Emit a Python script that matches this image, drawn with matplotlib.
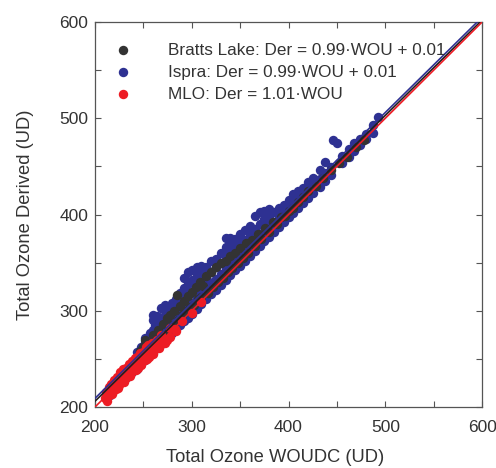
import numpy as np
import matplotlib
matplotlib.use("Agg")
import matplotlib.pyplot as plt
from matplotlib.ticker import MultipleLocator

plt.rcParams['font.family'] = ['Liberation Sans', 'DejaVu Sans']

# MLO (red)
mlo_x = [210, 212, 213, 215, 216, 218, 219, 221, 222, 224, 225, 227, 228, 230, 231,
         233, 234, 236, 237, 239, 240, 242, 244, 246, 248, 250, 252, 254, 256, 258,
         260, 263, 266, 270, 274, 278, 283, 214, 220, 226, 232, 238, 243, 249, 255,
         261, 268, 290, 300, 310,
         211, 217, 223, 229, 235, 241, 247, 253, 259, 264,
         212, 218, 224, 230, 236, 242, 248, 254, 260, 266, 272, 278, 284]
mlo_y = [209, 214, 211, 218, 214, 221, 217, 225, 219, 229, 223, 232, 226, 236, 229,
         239, 232, 243, 235, 246, 238, 249, 241, 252, 245, 257, 249, 259, 252, 262,
         256, 267, 262, 271, 270, 282, 281, 221, 228, 236, 241, 248, 252, 254, 264,
         266, 275, 289, 298, 309,
         216, 224, 231, 239, 245, 251, 256, 262, 267, 270,
         206, 214, 220, 226, 232, 238, 244, 250, 255, 261, 266, 273, 279]

# Bratts Lake (black)
bratts_x = [242, 246, 250, 252, 255, 258, 260, 262, 265, 267, 270, 272, 274, 276, 278,
            280, 282, 285, 286, 288, 290, 292, 294, 296, 298, 300, 302, 304, 306, 308,
            310, 312, 315, 317, 320, 322, 325, 327, 330, 332, 335, 337, 340, 342, 345,
            348, 350, 353, 356, 358, 362, 365, 368, 372, 376, 380, 384, 388, 392, 396,
            400, 405, 410, 415, 420, 428, 436, 444, 452, 460, 470, 478]
bratts_y = [250, 258, 262, 270, 258, 266, 275, 262, 280, 270, 286, 275, 292, 281, 296,
            285, 300, 316, 290, 305, 296, 310, 300, 315, 304, 320, 306, 325, 312, 330,
            314, 326, 336, 318, 340, 325, 345, 330, 350, 334, 352, 340, 357, 344, 360,
            350, 365, 355, 370, 360, 374, 367, 380, 375, 386, 382, 392, 390, 397, 398,
            404, 407, 413, 418, 424, 430, 438, 446, 453, 460, 470, 477]

# Ispra (blue)
ispra_x = [215, 215, 222, 222, 228, 228, 233, 233, 238, 238,
           243, 243, 243, 248, 248, 248, 252, 252, 252, 252, 257, 257, 257, 257,
           260, 260, 260, 260, 264, 264, 264, 264, 268, 268, 268, 268, 268,
           272, 272, 272, 272, 272, 276, 276, 276, 276, 280, 280, 280, 280,
           284, 284, 284, 284, 288, 288, 288, 288, 292, 292, 292, 292, 292,
           296, 296, 296, 296, 296, 300, 300, 300, 300, 300, 305, 305, 305, 305, 305,
           310, 310, 310, 310, 310, 315, 315, 315, 315, 320, 320, 320, 320,
           325, 325, 325, 325, 330, 330, 330, 330, 335, 335, 335, 335, 335,
           340, 340, 340, 340, 340, 345, 345, 345, 345, 350, 350, 350, 350,
           355, 355, 355, 355, 360, 360, 360, 360, 365, 365, 365, 365,
           370, 370, 370, 370, 375, 375, 375, 375, 380, 380, 380, 380,
           385, 385, 385, 390, 390, 390, 395, 395, 395, 400, 400, 400,
           405, 405, 405, 410, 410, 410, 415, 415, 415, 420, 420, 420,
           425, 425, 425, 432, 432, 432, 438, 438, 438, 444, 444, 446, 450,
           455, 455, 462, 462, 468, 468, 474, 474, 480, 480, 487, 487, 492,
           262, 262, 278, 278, 302, 302, 318, 318, 338, 338, 352, 352,
           362, 362, 378, 378, 392, 402, 412]
ispra_y = [213, 220, 221, 228, 226, 234, 231, 240, 236, 246,
           240, 248, 257, 245, 253, 262, 249, 257, 266, 272, 254, 262, 270, 277,
           258, 280, 290, 296, 261, 270, 288, 295, 265, 274, 283, 293, 303,
           269, 278, 290, 300, 306, 273, 283, 295, 304, 277, 288, 298, 308,
           281, 292, 302, 312, 285, 296, 306, 318, 289, 300, 312, 324, 334,
           293, 305, 316, 328, 340, 297, 308, 320, 332, 342, 302, 313, 325, 336, 345,
           307, 318, 330, 340, 346, 312, 323, 335, 345, 317, 328, 340, 352,
           322, 333, 345, 354, 327, 338, 350, 360, 332, 343, 355, 366, 376,
           337, 348, 360, 370, 376, 342, 353, 365, 375, 347, 358, 370, 380,
           352, 363, 374, 384, 357, 368, 379, 388, 362, 373, 385, 398,
           367, 378, 390, 403, 372, 383, 395, 404, 377, 388, 398, 406,
           382, 392, 403, 387, 397, 407, 392, 401, 410, 397, 406, 415,
           402, 411, 421, 407, 416, 424, 412, 420, 428, 417, 425, 434,
           422, 430, 438, 429, 437, 446, 435, 443, 455, 441, 449, 477, 474,
           453, 461, 460, 468, 466, 474, 472, 478, 478, 484, 485, 493, 501,
           285, 274, 292, 302, 330, 318, 340, 330, 365, 355, 375, 365,
           385, 375, 400, 392, 404, 412, 420]

labels = ["Bratts Lake: Der = 0.99\u00b7WOU + 0.01",
          "Ispra: Der = 0.99\u00b7WOU + 0.01",
          "MLO: Der = 1.01\u00b7WOU"]

# fit lines as drawn (slope, intercept)
fit_bratts = (0.99, 8)
fit_ispra = (0.99, 11)
fit_mlo = (1.0, 0)

c_black = '#333333'
c_blue = '#2E3192'
c_red = '#ED1C24'
c_text = '#333333'

fig = plt.figure(figsize=(4.96, 4.68), dpi=100)
ax = fig.add_axes([0.1915, 0.1303, 0.7805, 0.8227])

s = 46
ax.scatter(ispra_x, ispra_y, s=s, color=c_blue, linewidths=0, zorder=2)
ax.scatter(bratts_x, bratts_y, s=s, color=c_black, linewidths=0, zorder=3)
ax.scatter(mlo_x, mlo_y, s=s, color=c_red, linewidths=0, zorder=4)

xx = np.array([200, 600])
ax.plot(xx, fit_ispra[0] * xx + fit_ispra[1], color=c_blue, lw=1.2, zorder=5)
ax.plot(xx, fit_bratts[0] * xx + fit_bratts[1], color='#231F20', lw=1.2, zorder=5)
ax.plot(xx, fit_mlo[0] * xx + fit_mlo[1], color=c_red, lw=1.2, zorder=5)

# legend entries (dots only)
h1 = ax.scatter([], [], s=s, color=c_black, linewidths=0)
h2 = ax.scatter([], [], s=s, color=c_blue, linewidths=0)
h3 = ax.scatter([], [], s=s, color=c_red, linewidths=0)
ax.legend([h1, h2, h3], labels, loc='upper left', bbox_to_anchor=(0.007, 0.99),
          frameon=False, fontsize=12.3, handlelength=1.0, handletextpad=2.1,
          labelspacing=0.4, labelcolor=c_text, borderaxespad=0.6)

ax.set_xlim(200, 600)
ax.set_ylim(200, 600)
ax.xaxis.set_major_locator(MultipleLocator(100))
ax.yaxis.set_major_locator(MultipleLocator(100))
ax.xaxis.set_minor_locator(MultipleLocator(50))
ax.yaxis.set_minor_locator(MultipleLocator(50))
ax.tick_params(which='both', direction='in', top=True, right=True, length=4,
               width=0.8, color='#555555')
ax.tick_params(axis='both', labelsize=12.5, labelcolor=c_text)
ax.tick_params(axis='x', pad=9)
ax.tick_params(axis='y', pad=5)
for sp in ax.spines.values():
    sp.set_color('#555555')
    sp.set_linewidth(0.9)

ax.set_xlabel('Total Ozone WOUDC (UD)', fontsize=13.2, color=c_text)
ax.xaxis.set_label_coords(0.465, -0.108)
ax.set_ylabel('Total Ozone Derived (UD)', fontsize=13.2, color=c_text, labelpad=18)

fig.savefig('out.png', dpi=100)
